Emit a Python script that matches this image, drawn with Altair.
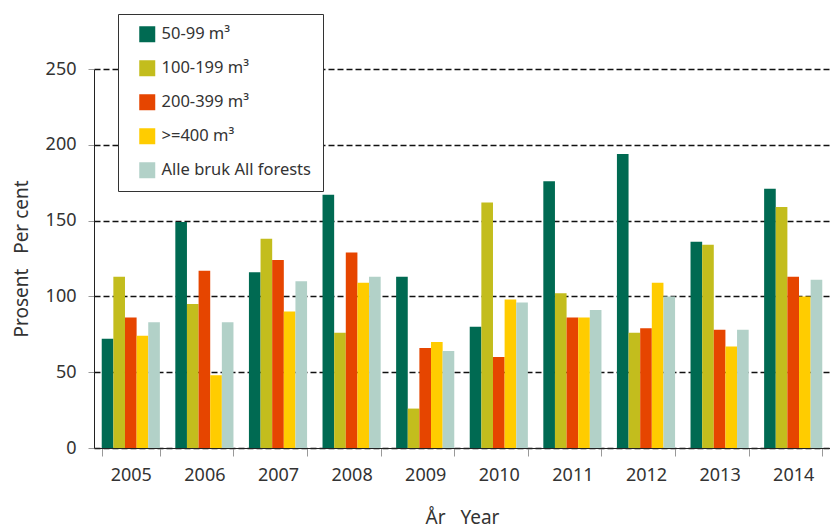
import altair as alt
import pandas as pd

years = ["2005", "2006", "2007", "2008", "2009", "2010", "2011", "2012", "2013", "2014"]
series = ["50-99 m³", "100-199 m³", "200-399 m³", ">=400 m³", "Alle bruk All forests"]
colors = ["#006A52", "#C3BD1D", "#E64500", "#FFCC00", "#B2D1C8"]

v_50_99 = [72, 149, 116, 167, 113, 80, 176, 194, 136, 171]
v_100_199 = [113, 95, 138, 76, 26, 162, 102, 76, 134, 159]
v_200_399 = [86, 117, 124, 129, 66, 60, 86, 79, 78, 113]
v_400 = [74, 48, 90, 109, 70, 98, 86, 109, 67, 100]
v_all = [83, 83, 110, 113, 64, 96, 91, 100, 78, 111]

rows = []
for s, vals in zip(series, [v_50_99, v_100_199, v_200_399, v_400, v_all]):
    for y, v in zip(years, vals):
        rows.append({"year": y, "series": s, "value": v})
df = pd.DataFrame(rows)

FONT = "Noto Sans"
NB = "\u00a0"

chart = alt.Chart(df).mark_bar().encode(
    x=alt.X("year:N", sort=years,
            scale=alt.Scale(paddingInner=0.21, paddingOuter=0.105),
            axis=alt.Axis(title=f"År{NB}{NB}{NB}Year", labelAngle=0, tickBand="extent",
                          tickSize=8, tickColor="#999999", domainColor="#222222",
                          labelPadding=10, titlePadding=24, labelFontSize=18,
                          titleFontSize=19, labelColor="#333333", titleColor="#333333",
                          titleFontWeight="normal")),
    xOffset=alt.XOffset("series:N", sort=series, scale=alt.Scale(paddingInner=0, paddingOuter=0)),
    y=alt.Y("value:Q", scale=alt.Scale(domain=[0, 250], nice=False),
            axis=alt.Axis(title=f"Prosent{NB}{NB}{NB}Per cent", values=[0, 50, 100, 150, 200, 250],
                          grid=True, gridDash=[6, 3], gridColor="#111111", gridWidth=1.3,
                          tickSize=6, tickColor="#999999", domainColor="#222222",
                          labelPadding=12, titlePadding=14, labelFontSize=18,
                          titleFontSize=19, labelColor="#333333", titleColor="#333333",
                          titleFontWeight="normal")),
    color=alt.Color("series:N", sort=series,
                    scale=alt.Scale(domain=series, range=colors),
                    legend=alt.Legend(title=None, orient="none", legendX=24, legendY=-55,
                                      fillColor="white", strokeColor="#333333",
                                      padding=12, symbolOffset=9, symbolType="square",
                                      symbolSize=256, symbolStrokeWidth=0,
                                      labelFontSize=16.5, labelColor="#333333",
                                      labelOffset=6, rowPadding=17, labelLimit=300)),
).properties(
    width=736, height=379,
    padding={"left": 4, "top": 5, "right": 0, "bottom": 5},
).configure(font=FONT).configure_view(stroke=None)

chart.save("out.html", embed_options={"renderer": "svg", "actions": False})
